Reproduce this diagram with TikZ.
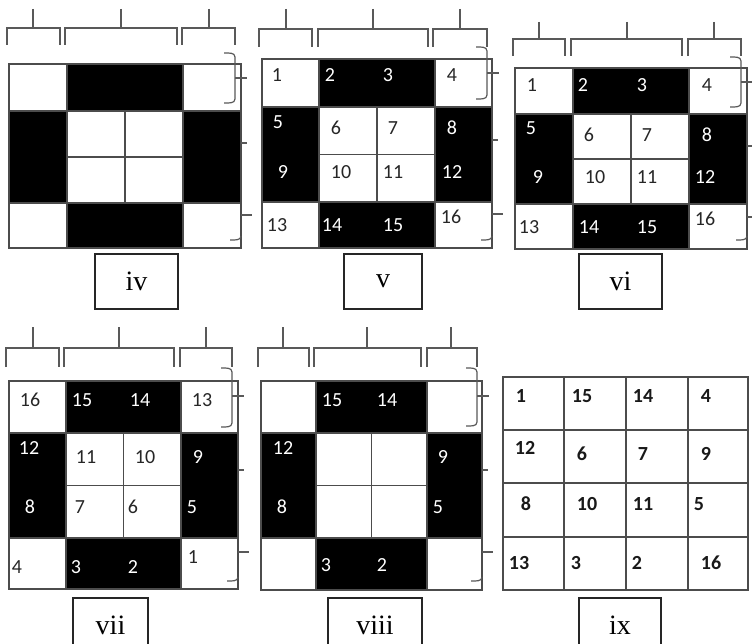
\documentclass[tikz,border=0pt]{standalone}
\usepackage{fontspec}
\setmainfont{Liberation Serif}
\newfontfamily\numfam{Carlito}
\tikzset{
  gl/.style={draw=black!70, line width=1.2pt},
  brk/.style={draw=black!65, line width=1.2pt},
  nw/.style={font=\numfam\fontsize{20}{20}\selectfont, text=black!85, inner sep=0pt},
  nb/.style={font=\numfam\fontsize{20}{20}\selectfont, text=white, inner sep=0pt},
  nx/.style={font=\numfam\bfseries\fontsize{20}{20}\selectfont, text=black!90, inner sep=0pt},
  lbl/.style={draw=black!85, line width=1.2pt, minimum height=55pt, inner sep=0pt, font=\fontsize{28}{28}\selectfont}
}
% ring grid: X0 X1 X3 X4 Y0 Y1 Y3 Y4
\newcommand\ringgrid[8]{%
  \fill[black] (#2,#5) rectangle (#3,#6);
  \fill[black] (#1,#6) rectangle (#2,#7);
  \fill[black] (#3,#6) rectangle (#4,#7);
  \fill[black] (#2,#7) rectangle (#3,#8);
  \draw[gl] (#1,#5) rectangle (#4,#8);
  \draw[gl] (#1,#6) -- (#4,#6) (#1,#7) -- (#4,#7)
    (#2,{(#6+#7)/2}) -- (#3,{(#6+#7)/2})
    (#2,#5) -- (#2,#8) (#3,#5) -- (#3,#8)
    ({(#2+#3)/2},#6) -- ({(#2+#3)/2},#7);
}
% top bracket: x1 x2 tick ytop yh ybot
\newcommand\topbr[6]{%
  \draw[brk] (#1,#6) -- (#1,#5) -- (#2,#5) -- (#2,#6) (#3,#4) -- (#3,#5);
}
% right braces: X Xb Ta Tm Tb Mid Bt Bh
\newcommand\rbraces[8]{%
  \draw[brk] (#2-11,#3) to[out=0,in=90] (#2,#3+4) -- (#2,#5-4) to[out=-90,in=0] (#2-11,#5);
  \draw[brk] (#2,#4) -- (#2+12,#4);
  \draw[brk] (#1,#6) -- (#1+6,#6);
  \draw[brk] (#1,#7) -- (#1+11,#7);
  \draw[brk] (#1-11,#8) to[out=0,in=-90] (#1,#8-4);
}
\begin{document}
\begin{tikzpicture}[x=1pt,y=-1pt]
\useasboundingbox (0,0) rectangle (752,644);
\clip (0,0) rectangle (752,644);
\fill[white] (0,0) rectangle (752,644);

% ---------- panel iv ----------
\ringgrid{9}{67}{183}{241}{64}{111}{203}{248}
\topbr{7}{60}{33}{9}{28}{45}
\topbr{65}{177}{121}{9}{28}{45}
\topbr{182}{235}{209}{9}{28}{45}
\rbraces{241}{235}{53}{78}{103}{143}{215}{240}
\node[lbl, minimum width=83pt] (liv) at (136.5,281.5) {iv};

% ---------- panel v ----------
\ringgrid{262}{319}{435}{492}{59}{107}{202}{248}
\topbr{259}{312}{286}{9}{29}{47}
\topbr{318}{428}{373}{9}{29}{47}
\topbr{433}{487}{460}{9}{29}{47}
\rbraces{492}{487}{47}{73}{99}{140}{214}{240}
\node[lbl, minimum width=78pt] (lv) at (383,281.5) {v};
\node[nw] (va) at (277,75) {1};
\node[nb] (vb) at (330,75) {2};
\node[nb] (vc) at (388,75) {3};
\node[nw] (vd) at (452,75) {4};
\node[nb] (ve) at (278,122) {5};
\node[nw] (vf) at (336,128) {6};
\node[nw] (vg) at (393,128) {7};
\node[nb] (vh) at (452,128) {8};
\node[nb] (vi9) at (283,172) {9};
\node[nw] (vj) at (341,172) {10};
\node[nw] (vk) at (393,172) {11};
\node[nb] (vl) at (452,172) {12};
\node[nw] (vm) at (277,225) {13};
\node[nb] (vn) at (332,225) {14};
\node[nb] (vo) at (393,225) {15};
\node[nw] (vp) at (451,217) {16};

% ---------- panel vi ----------
\ringgrid{515}{573}{689}{747}{68}{114}{204}{249}
\topbr{513}{565}{539}{22}{39}{56}
\topbr{571}{682}{627}{22}{39}{56}
\topbr{688}{741}{714}{22}{39}{56}
\rbraces{747}{741}{57}{82}{107}{146}{217}{240}
\node[lbl, minimum width=83pt] (lvi) at (620.5,281.5) {vi};
\node[nw] (wa) at (532,85) {1};
\node[nb] (wb) at (583,85) {2};
\node[nb] (wc) at (642,85) {3};
\node[nw] (wd) at (707,85) {4};
\node[nb] (we) at (531,128) {5};
\node[nw] (wf) at (589,135) {6};
\node[nw] (wg) at (647,135) {7};
\node[nb] (wh) at (707,135) {8};
\node[nb] (wi) at (538,177) {9};
\node[nw] (wj) at (595,177) {10};
\node[nw] (wk) at (647,177) {11};
\node[nb] (wl) at (705,177) {12};
\node[nw] (wm) at (529,227) {13};
\node[nb] (wn) at (589,227) {14};
\node[nb] (wo) at (647,227) {15};
\node[nw] (wp) at (705,219) {16};

% ---------- panel vii ----------
\ringgrid{9}{66}{181}{238}{381}{433}{538}{589}
\topbr{6}{59}{33}{327}{348}{367}
\topbr{64}{174}{119}{327}{348}{367}
\topbr{180}{232}{206}{327}{348}{367}
\rbraces{238}{232}{368}{396}{427}{470}{552}{581}
\node[lbl, minimum width=75pt] (lvii) at (110.5,625.5) {vii};
\node[nw] (xa) at (30,400) {16};
\node[nb] (xb) at (82,400) {15};
\node[nb] (xc) at (140,400) {14};
\node[nw] (xd) at (202,400) {13};
\node[nb] (xe) at (29,448) {12};
\node[nw] (xf) at (86,457) {11};
\node[nw] (xg) at (145,457) {10};
\node[nb] (xh) at (198,457) {9};
\node[nb] (xi) at (30,507) {8};
\node[nw] (xj) at (80,507) {7};
\node[nw] (xk) at (133,507) {6};
\node[nb] (xl) at (192,507) {5};
\node[nw] (xm) at (17,567) {4};
\node[nb] (xn) at (76,567) {3};
\node[nb] (xo) at (133,567) {2};
\node[nw] (xp) at (193,557) {1};

% ---------- panel viii ----------
\ringgrid{261}{316}{427}{482}{381}{433}{538}{590}
\topbr{258}{309}{283}{327}{348}{367}
\topbr{314}{421}{367}{327}{348}{367}
\topbr{427}{477}{451}{327}{348}{367}
\rbraces{482}{477}{368}{396}{426}{470}{552}{581}
\node[lbl, minimum width=94pt] (lviii) at (375,625.5) {viii};
\node[nb] (ya) at (332,400) {15};
\node[nb] (yb) at (387,400) {14};
\node[nb] (yc) at (283,448) {12};
\node[nb] (yd) at (443,457) {9};
\node[nb] (ye) at (282,507) {8};
\node[nb] (yf) at (438,507) {5};
\node[nb] (yg) at (326,565) {3};
\node[nb] (yh) at (382,565) {2};

% ---------- panel ix ----------
\draw[gl] (503,377) rectangle (748,590);
\draw[gl] (564,377) -- (564,590) (626,377) -- (626,590) (688,377) -- (688,590)
  (503,430) -- (748,430) (503,483) -- (748,483) (503,537) -- (748,537);
\node[lbl, minimum width=82pt] (lix) at (620,625.5) {ix};
\node[nx] (za) at (521,396) {1};
\node[nx] (zb) at (582,396) {15};
\node[nx] (zc) at (643,396) {14};
\node[nx] (zd) at (706,396) {4};
\node[nx] (ze) at (525,448) {12};
\node[nx] (zf) at (582,454) {6};
\node[nx] (zg) at (643,454) {7};
\node[nx] (zh) at (706,454) {9};
\node[nx] (zi) at (526,504) {8};
\node[nx] (zj) at (587,504) {10};
\node[nx] (zk) at (643,504) {11};
\node[nx] (zl) at (699,504) {5};
\node[nx] (zm) at (519,563) {13};
\node[nx] (zn) at (576,563) {3};
\node[nx] (zo) at (637,563) {2};
\node[nx] (zp) at (711,563) {16};
\end{tikzpicture}
\end{document}
